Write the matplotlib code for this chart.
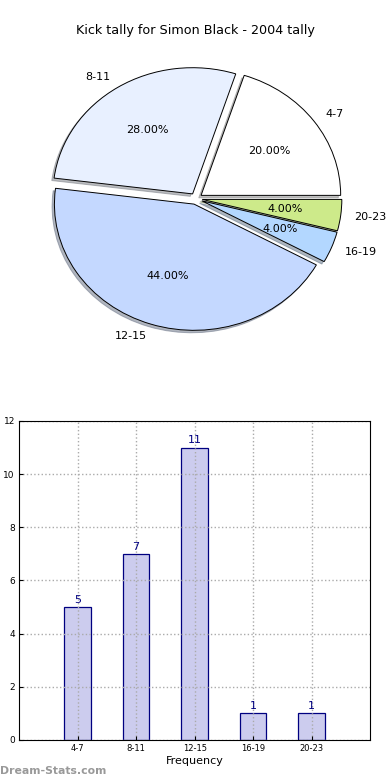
import matplotlib
matplotlib.use("Agg")
import matplotlib.pyplot as plt

plt.rcParams['font.family'] = 'DejaVu Sans'

# data
groups = ["4-7", "8-11", "12-15", "16-19", "20-23"]
counts = [5, 7, 11, 1, 1]
pie_colors = ["#ffffff", "#e8f0ff", "#c4d8ff", "#b3d7ff", "#cdea8a"]
title = "Kick tally for Simon Black - 2004 tally"

fig = plt.figure(figsize=(3.9, 7.8), dpi=100)

# pie
ax1 = fig.add_axes([0.055, 0.543, 0.895, 0.4045])
ax1.pie(counts, labels=groups, colors=pie_colors, autopct="%.2f%%",
        explode=[0.045] * len(counts),
        shadow={"ox": -0.012, "oy": -0.014, "shade": 0.5},
        startangle=0, counterclock=True, labeldistance=1.1, pctdistance=0.6,
        wedgeprops={"edgecolor": "black", "linewidth": 0.7},
        textprops={"fontsize": 8})
ax1.set_aspect("auto")
ax1.set_xlim(-1.25, 1.25)
ax1.set_ylim(-1.25, 1.25)
fig.text(0.5, 0.961, title, ha="center", va="center", fontsize=9.2)

# bars
ax2 = fig.add_axes([0.049, 0.0513, 0.900, 0.409])
x = list(range(len(groups)))
ax2.bar(x, counts, width=0.45, color="#ccccee", edgecolor="#000080", linewidth=0.9, zorder=2)
for xi, c in zip(x, counts):
    ax2.text(xi, c + 0.08, str(c), ha="center", va="bottom", color="#000080", fontsize=8)
ax2.set_xlim(-1, 5)
ax2.set_ylim(0, 12)
ax2.set_xticks(x)
ax2.set_xticklabels(groups, fontsize=6)
ax2.set_yticks(range(0, 13, 2))
ax2.tick_params(axis="both", direction="in", length=3, pad=3)
ax2.tick_params(axis="y", labelsize=6.5, pad=3)
ax2.grid(True, linestyle=":", color="#aaaaaa", linewidth=1, zorder=3)
ax2.set_axisbelow(False)
for s in ax2.spines.values():
    s.set_zorder(5)
ax2.set_xlabel("Frequency", fontsize=8, labelpad=2)
ax2.set_ylabel("Distribution", fontsize=8, labelpad=2)

fig.text(0.0, 0.012, "Dream-Stats.com", color="#999999", fontsize=7.8,
         fontweight="bold", ha="left", va="center")

fig.savefig("out.png", dpi=100)
